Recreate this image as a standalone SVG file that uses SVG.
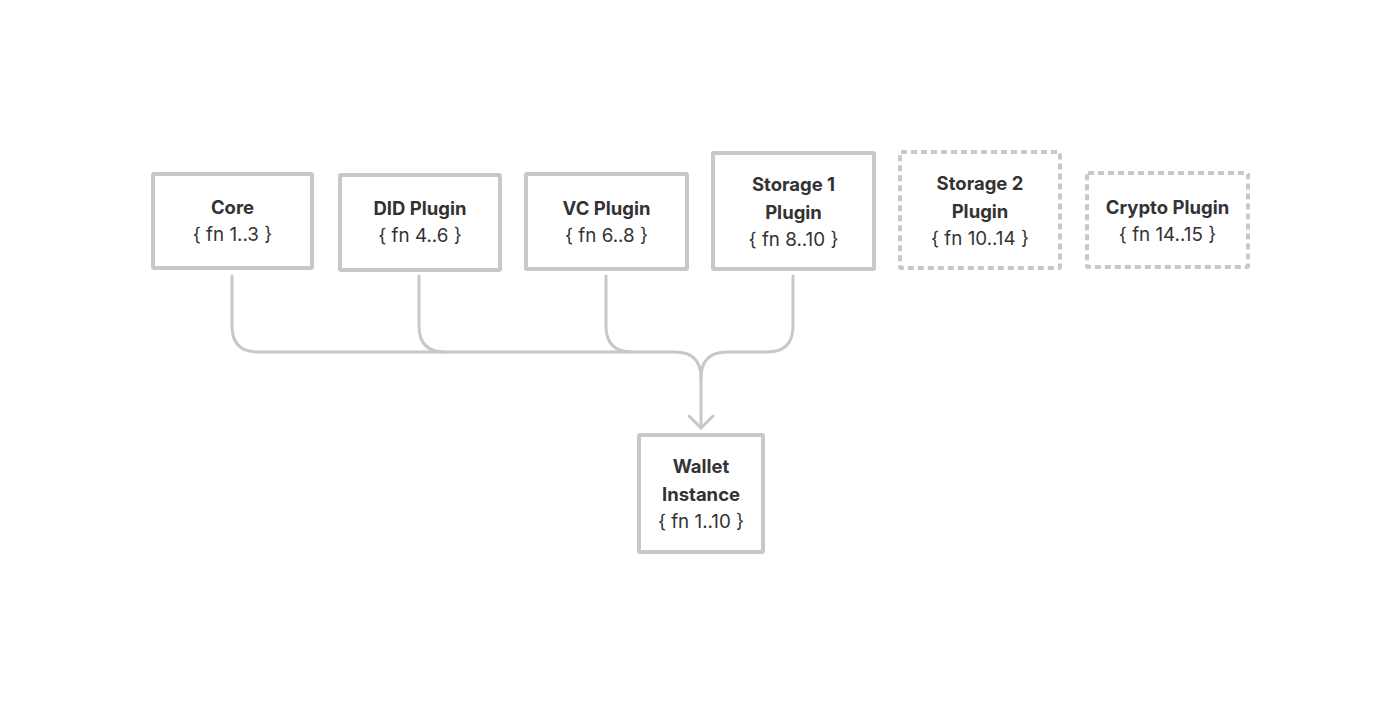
<svg xmlns="http://www.w3.org/2000/svg" width="1400" height="704" viewBox="0 0 1400 704">
<style>
.box{fill:#fff;stroke:#c8c8c8;stroke-width:4}
.dash{fill:#fff;stroke:#c8c8c8;stroke-width:4;stroke-dasharray:6 4}
.t{font-family:Inter,"Liberation Sans",sans-serif;font-size:18.5px;font-weight:700;fill:#333;text-anchor:middle}
.f{font-family:Inter,"Liberation Sans",sans-serif;font-size:18.8px;font-weight:400;fill:#333;text-anchor:middle}
.c{fill:none;stroke:#c8c8c8;stroke-width:3;stroke-linecap:round;stroke-linejoin:round}
</style>
<rect width="1400" height="704" fill="#fff"/>
<g id="connectors">
<path class="c" d="M232,276 V326 Q232,352 258,352 H675 Q701,352 701,378 V428"/>
<path class="c" d="M419,276 V326 Q419,352 445,352"/>
<path class="c" d="M606,276 V326 Q606,352 632,352"/>
<path class="c" d="M793,276 V326 Q793,352 767,352 H727 Q701,352 701,378"/>
<path class="c" d="M689,416 L701,428 L713,416"/>
</g>
<g id="core">
<rect class="box" x="153" y="174" width="159" height="94" rx="1"/>
<text class="t" x="232.5" y="214">Core</text>
<text class="f" x="232.5" y="241">{ fn 1..3 }</text>
</g>
<g id="did">
<rect class="box" x="340" y="175" width="160" height="95" rx="1"/>
<text class="t" x="420" y="215">DID Plugin</text>
<text class="f" x="420" y="242">{ fn 4..6 }</text>
</g>
<g id="vc">
<rect class="box" x="526" y="174" width="161" height="95" rx="1"/>
<text class="t" x="606.5" y="215">VC Plugin</text>
<text class="f" x="606.5" y="242">{ fn 6..8 }</text>
</g>
<g id="storage1">
<rect class="box" x="713" y="153" width="161" height="116" rx="1"/>
<text class="t" x="793.5" y="191">Storage 1</text>
<text class="t" x="793.5" y="219">Plugin</text>
<text class="f" x="793.5" y="246">{ fn 8..10 }</text>
</g>
<g id="storage2">
<rect class="dash" x="900" y="152" width="160" height="116" rx="1"/>
<text class="t" x="980" y="190">Storage 2</text>
<text class="t" x="980" y="218">Plugin</text>
<text class="f" x="980" y="245">{ fn 10..14 }</text>
</g>
<g id="crypto">
<rect class="dash" x="1087" y="173" width="161" height="94" rx="1"/>
<text class="t" x="1167.5" y="214">Crypto Plugin</text>
<text class="f" x="1167.5" y="241">{ fn 14..15 }</text>
</g>
<g id="wallet">
<rect class="box" x="639" y="435" width="124" height="117" rx="1"/>
<text class="t" x="701" y="473">Wallet</text>
<text class="t" x="701" y="501">Instance</text>
<text class="f" x="701" y="528">{ fn 1..10 }</text>
</g>
</svg>
